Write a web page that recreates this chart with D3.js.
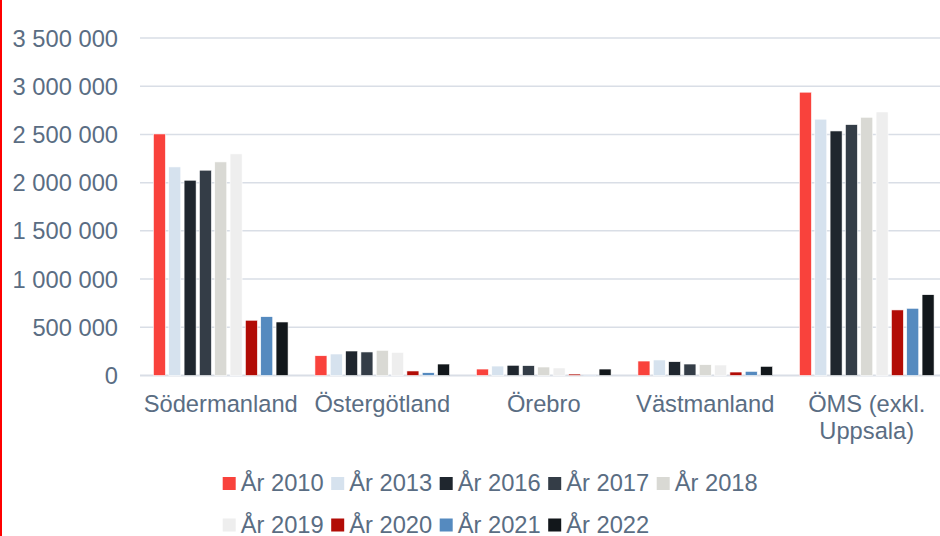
<!DOCTYPE html>
<html>
<head>
<meta charset="utf-8">
<script src="https://cdn.jsdelivr.net/npm/d3@7"></script>
<style>
  html, body { margin: 0; padding: 0; background: #fff; }
  svg { display: block; font-family: "Liberation Sans", Arial, sans-serif; }
</style>
</head>
<body>
<svg id="chart" width="940" height="536"></svg>
<script>
// ── Data ────────────────────────────────────────────────────────────────────
const regions = ['Södermanland', 'Östergötland', 'Örebro', 'Västmanland', 'ÖMS (exkl.\nUppsala)'];
const years = ['År 2010', 'År 2013', 'År 2016', 'År 2017', 'År 2018', 'År 2019', 'År 2020', 'År 2021', 'År 2022'];
const yearColors = ['#f9423c', '#d6e2ee', '#1f262e', '#343d47', '#d9d9d4', '#eeeeee', '#b20c06', '#558abf', '#12171b'];

// one array per region, in the order of `years`
const sodermanland = [2505000, 2163000, 2025000, 2129000, 2215000, 2298000, 573000, 610000, 555000];
const ostergotland = [205000, 223000, 254000, 244000, 261000, 240000, 47000, 29000, 119000];
const orebro       = [67000, 98000, 106000, 102000, 88000, 78000, 15000, 3000, 67000];
const vastmanland  = [150000, 161000, 143000, 119000, 112000, 109000, 36000, 43000, 95000];
const oms          = [2938000, 2658000, 2536000, 2602000, 2678000, 2733000, 680000, 697000, 838000];
const regionValues = [sodermanland, ostergotland, orebro, vastmanland, oms];

const yTicks = [0, 500000, 1000000, 1500000, 2000000, 2500000, 3000000, 3500000];

// ── Layout ──────────────────────────────────────────────────────────────────
const plot = { left: 140, right: 947.5, top: 38, bottom: 375.5 };
const textColor = '#5a6d83';
const gridColor = '#d9dee6';
const fontSize = '23.7px';

const svg = d3.select('#chart');

const x0 = d3.scaleBand()
  .domain(regions)
  .range([plot.left, plot.right])
  .padding(0);

const x1 = d3.scaleBand()
  .domain(years)
  .range([0, x0.bandwidth()])
  .paddingInner(0.216)
  .paddingOuter(0.876);

const y = d3.scaleLinear()
  .domain([0, 3500000])
  .range([plot.bottom, plot.top]);

const fmt = v => d3.format(',')(v).replace(/,/g, ' ');

// ── Left red border ─────────────────────────────────────────────────────────
svg.append('rect')
  .attr('x', 0).attr('y', 0)
  .attr('width', 2).attr('height', 536)
  .attr('fill', '#ff0000');

// ── Grid + y labels ─────────────────────────────────────────────────────────
const grid = svg.append('g');
for (const t of yTicks) {
  grid.append('line')
    .attr('x1', plot.left).attr('x2', 940)
    .attr('y1', y(t)).attr('y2', y(t))
    .attr('stroke', gridColor)
    .attr('stroke-width', t === 0 ? 2 : 1.5);

  grid.append('text')
    .attr('x', 118)
    .attr('y', y(t))
    .attr('dy', '0.36em')
    .attr('text-anchor', 'end')
    .attr('fill', textColor)
    .attr('font-size', fontSize)
    .text(fmt(t));
}

// ── Bars ────────────────────────────────────────────────────────────────────
const bars = svg.append('g');
regions.forEach((r, ri) => {
  const g = bars.append('g').attr('transform', `translate(${x0(r)},0)`);
  regionValues[ri].forEach((v, yi) => {
    g.append('rect')
      .attr('x', x1(years[yi]))
      .attr('y', y(v))
      .attr('width', x1.bandwidth())
      .attr('height', plot.bottom - y(v))
      .attr('fill', yearColors[yi])
      .attr('stroke', '#ffffff')
      .attr('stroke-width', 0.6);
  });
});

// ── Category labels ─────────────────────────────────────────────────────────
const catLabels = svg.append('g');
for (const r of regions) {
  const lines = r.split('\n');
  const t = catLabels.append('text')
    .attr('x', x0(r) + x0.bandwidth() / 2)
    .attr('y', 412)
    .attr('text-anchor', 'middle')
    .attr('fill', textColor)
    .attr('font-size', fontSize);
  lines.forEach((ln, i) => {
    t.append('tspan')
      .attr('x', x0(r) + x0.bandwidth() / 2)
      .attr('dy', i === 0 ? 0 : 27)
      .text(ln);
  });
}

// ── Legend ──────────────────────────────────────────────────────────────────
const legend = svg.append('g');
const perRow = 5;
const itemW = 108.5;
const legendX = 222.7;
const rowBase = [491, 532.5];
years.forEach((yr, i) => {
  const row = Math.floor(i / perRow);
  const col = i % perRow;
  const lx = legendX + col * itemW;
  const base = rowBase[row];
  legend.append('rect')
    .attr('x', lx).attr('y', base - 14)
    .attr('width', 13).attr('height', 13)
    .attr('fill', yearColors[i]);
  legend.append('text')
    .attr('x', lx + 18)
    .attr('y', base)
    .attr('fill', textColor)
    .attr('font-size', fontSize)
    .text(yr);
});
</script>
</body>
</html>
